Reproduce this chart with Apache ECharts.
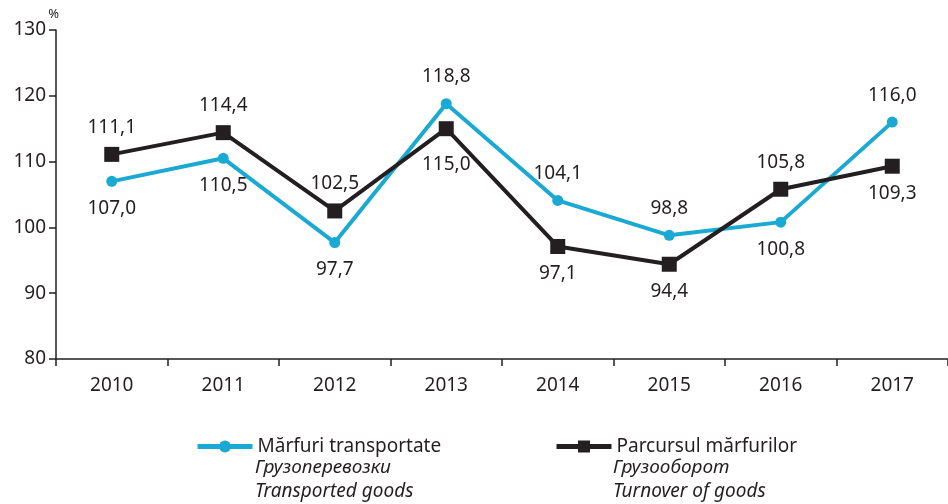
<!DOCTYPE html>
<html>
<head>
<meta charset="utf-8">
<script src="https://cdn.jsdelivr.net/npm/echarts@6/dist/echarts.min.js"></script>
<style>
html,body{margin:0;padding:0;background:#fff;}
#main{width:948px;height:504px;}
</style>
</head>
<body>
<div id="main"></div>
<script>
var years = ['2010','2011','2012','2013','2014','2015','2016','2017'];
var transported = [107.0, 110.5, 97.7, 118.8, 104.1, 98.8, 100.8, 116.0];
var turnover = [111.1, 114.4, 102.5, 115.0, 97.1, 94.4, 105.8, 109.3];
var yTicks = [80, 90, 100, 110, 120, 130];

var nameA = 'Mărfuri transportate';
var nameB = 'Parcursul mărfurilor';
var FONT = '"Noto Sans", sans-serif';

function fmt(v){ return v.toFixed(1).replace('.', ','); }

// label goes above when series is the higher one at that year
function withLabels(vals, other){
	return vals.map(function(v, i){
		return {value: v, label: {position: v > other[i] ? 'top' : 'bottom'}};
	});
}
// a label under a peak is pushed lower to clear the lines
function peakShift(vals, other){
	return function(p){
		var i = p.dataIndex, v = vals[i];
		var peak = i > 0 && i < vals.length - 1 && v > vals[i - 1] && v > vals[i + 1];
		return (peak && v < other[i]) ? {dy: 9} : {};
	};
}

window.onload = function(){
	var myChart = echarts.init(document.getElementById('main'));
	var legendBase = {
		top: 432,
		itemWidth: 55, itemHeight: 15, itemGap: 10,
		lineStyle: {width: 5},
		textStyle: {fontFamily: FONT, fontSize: 19, color: '#231f20'}
	};
	var option = {
		animation: false,
		textStyle: {fontFamily: FONT},
		grid: {left: 56, right: 0, top: 30, bottom: 145},
		legend: [
			Object.assign({data: [nameA], left: 190}, legendBase),
			Object.assign({data: [nameB], left: 549}, legendBase)
		],
		graphic: [
			{type: 'text', left: 255, top: 458, style: {text: 'Грузоперевозки', font: 'italic 19px ' + FONT, fill: '#231f20'}},
			{type: 'text', left: 255, top: 482, style: {text: 'Transported goods', font: 'italic 19px ' + FONT, fill: '#231f20'}},
			{type: 'text', left: 613, top: 458, style: {text: 'Грузооборот', font: 'italic 19px ' + FONT, fill: '#231f20'}},
			{type: 'text', left: 613, top: 482, style: {text: 'Turnover of goods', font: 'italic 19px ' + FONT, fill: '#231f20'}}
		],
		xAxis: {
			type: 'category',
			data: years,
			boundaryGap: true,
			axisLine: {lineStyle: {color: '#231f20', width: 1.5}},
			axisTick: {show: true, length: 7, lineStyle: {color: '#231f20', width: 1.5}},
			axisLabel: {color: '#231f20', fontSize: 19, margin: 17}
		},
		yAxis: {
			type: 'value',
			min: yTicks[0], max: yTicks[yTicks.length - 1], interval: 10,
			name: '%',
			nameGap: 6,
			nameTextStyle: {color: '#231f20', fontSize: 13, align: 'right', padding: [0, -3, 0, 0]},
			splitLine: {show: false},
			axisLine: {show: true, lineStyle: {color: '#231f20', width: 1.5}},
			axisTick: {show: true, length: 7, lineStyle: {color: '#231f20', width: 1.5}},
			axisLabel: {color: '#231f20', fontSize: 19, margin: 10}
		},
		series: [{
			name: nameA,
			type: 'line',
			data: withLabels(transported, turnover),
			symbol: 'circle',
			symbolSize: 11,
			z: 2,
			itemStyle: {color: '#1aa9d2'},
			lineStyle: {color: '#1aa9d2', width: 4},
			label: {show: true, distance: 12, color: '#231f20', fontSize: 19,
				formatter: function(p){ return fmt(p.value); }}
		}, {
			name: nameB,
			type: 'line',
			data: withLabels(turnover, transported),
			symbol: 'rect',
			symbolSize: 15,
			z: 3,
			itemStyle: {color: '#231f20'},
			lineStyle: {color: '#231f20', width: 4},
			labelLayout: peakShift(turnover, transported),
			label: {show: true, distance: 10, color: '#231f20', fontSize: 19,
				formatter: function(p){ return fmt(p.value); }}
		}]
	};
	myChart.setOption(option);
};
</script>
</body>
</html>
